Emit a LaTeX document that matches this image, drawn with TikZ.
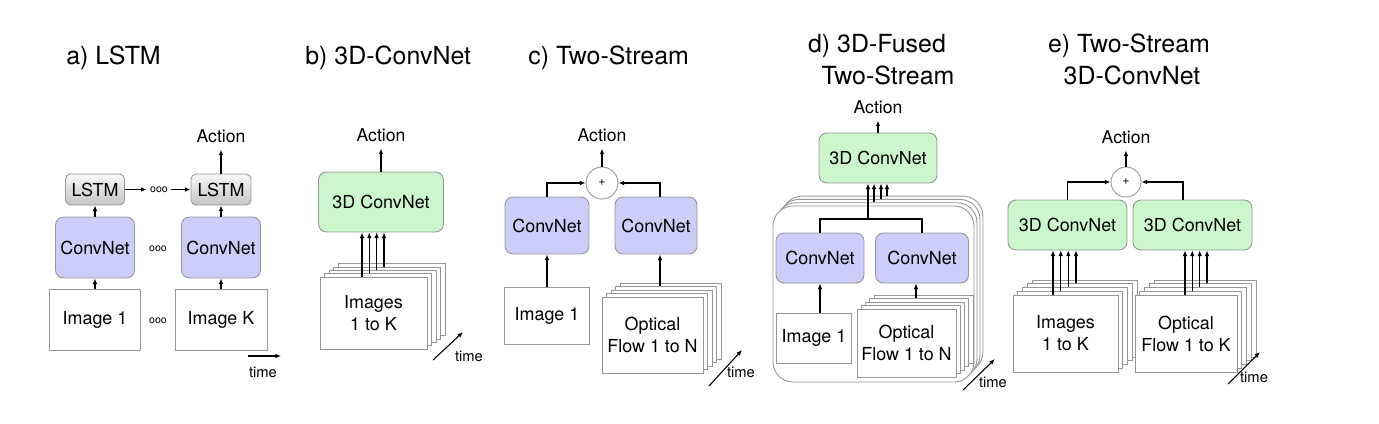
\documentclass[tikz,border=0pt]{standalone}
\usepackage{fontspec}
\setmainfont{TeX Gyre Heros}
\usetikzlibrary{arrows.meta}
\definecolor{cnblue}{RGB}{205,205,250}
\definecolor{cngreen}{RGB}{204,246,204}
\definecolor{edge}{RGB}{150,150,150}
\begin{document}
\begin{tikzpicture}[x=0.02cm,y=-0.02cm,
  every node/.style={inner sep=0pt},
  arr/.style={-{Latex[length=3.2pt,width=2.6pt]},line width=0.6pt},
  wire/.style={line width=0.6pt},
  ttl/.style={font=\fontsize{14.2}{16}\selectfont},
  txt/.style={font=\fontsize{10.2}{12.5}\selectfont,align=center},
  lbl/.style={font=\fontsize{10}{12}\selectfont,outer sep=4pt},
  tlbl/.style={font=\fontsize{8.4}{10}\selectfont},
  oootxt/.style={font=\fontsize{6}{6}\selectfont,outer sep=2pt},
  imgbox/.style={draw=edge,fill=white,line width=0.5pt},
  cnet/.style={draw=edge,fill=cnblue,rounded corners=0.16cm,line width=0.5pt,txt},
  cnetg/.style={draw=edge,fill=cngreen,rounded corners=0.16cm,line width=0.5pt,txt},
  lstm/.style={draw=edge,top color=gray!6,bottom color=gray!45,rounded corners=0.1cm,line width=0.5pt,txt},
  sumnode/.style={draw=edge,fill=white,circle,line width=0.5pt,font=\fontsize{7}{7}\selectfont}]
\useasboundingbox (0,0) rectangle (1379,423);
\node[ttl,anchor=west] (ta) at (66,58) {a) LSTM};
\node[lstm,minimum width=1.18cm,minimum height=0.62cm] (al1) at (95,189.5) {LSTM};
\node[lstm,minimum width=1.2cm,minimum height=0.62cm] (al2) at (221,189.5) {LSTM};
\node[cnet,minimum width=1.58cm,minimum height=1.22cm] (ac1) at (95,247.5) {ConvNet};
\node[cnet,minimum width=1.58cm,minimum height=1.22cm] (ac2) at (221,247.5) {ConvNet};
\node[imgbox,txt,minimum width=1.82cm,minimum height=1.22cm] (ai1) at (95,319.5) {Image 1};
\node[imgbox,txt,minimum width=1.84cm,minimum height=1.22cm] (aik) at (221,319.5) {Image K};
\node[oootxt] (ao1) at (159,189.5) {ooo};
\node[oootxt] (ao2) at (158,249) {ooo};
\node[oootxt] (ao3) at (158,321) {ooo};
\node[lbl] (aact) at (221,136) {Action};
\draw[arr] (ai1) -- (ac1);
\draw[arr] (ac1) -- (al1);
\draw[arr] (aik) -- (ac2);
\draw[arr] (ac2) -- (al2);
\draw[arr] (al2) -- (aact);
\draw[arr] (al1) -- (ao1);
\draw[arr] (ao1) -- (al2);
\coordinate (at0) at (248,356);
\coordinate (at1) at (281,356);
\draw[arr] (at0) -- (at1);
\node[tlbl] (atime) at (263,372) {time};
\node[ttl,anchor=west] (tb) at (305,58) {b) 3D-ConvNet};
\node[cnetg,minimum width=2.5cm,minimum height=1.2cm] (bcv) at (381,202) {3D ConvNet};
\node[lbl] (bact) at (381,135) {Action};
\foreach \k in {4,3,2,1}
  \node[imgbox,minimum width=2.14cm,minimum height=1.44cm] (bim\k) at ({373.5+4.5*\k},{313-3.3*\k}) {};
\node[imgbox,txt,minimum width=2.14cm,minimum height=1.44cm] (bim0) at (373.5,313) {Images\\1 to K};
\foreach \k/\dx in {0/-0.23cm,1/-0.174cm,2/-0.118cm,3/-0.06cm}
  \draw[arr] ([xshift=\dx]bim\k.north) -- ([xshift=\dx]bim\k.north |- bcv.south);
\draw[arr] (bcv) -- (bact);
\coordinate (bt0) at (433,360);
\coordinate (bt1) at (463,332);
\draw[arr] (bt0) -- (bt1);
\node[tlbl] (btime) at (469,356) {time};
\node[ttl,anchor=west] (tc) at (528,58) {c) Two-Stream};
\node[sumnode,minimum size=0.64cm] (cplus) at (602,183) {+};
\node[lbl] (cact) at (602,135) {Action};
\node[cnet,minimum width=1.68cm,minimum height=1.14cm] (cc1) at (547,225.5) {ConvNet};
\node[cnet,minimum width=1.64cm,minimum height=1.14cm] (cc2) at (656,225.5) {ConvNet};
\node[imgbox,txt,minimum width=1.7cm,minimum height=1.14cm] (ci1) at (547,315.5) {Image 1};
\foreach \k in {4,3,2,1}
  \node[imgbox,minimum width=2.02cm,minimum height=1.52cm] (cfl\k) at ({652.5+4.5*\k},{335-3.5*\k}) {};
\node[imgbox,txt,minimum width=2.02cm,minimum height=1.52cm] (cfl0) at (652.5,335) {Optical\\Flow 1 to N};
\draw[arr] (ci1) -- (cc1);
\draw[arr] ([xshift=0.08cm]cc2.south |- cfl3.north) -- ([xshift=0.08cm]cc2.south);
\draw[arr] (cc1.north) |- (cplus.west);
\draw[arr] ([xshift=0.08cm]cc2.north) |- (cplus.east);
\draw[arr] (cplus) -- (cact);
\coordinate (ct0) at (709,386);
\coordinate (ct1) at (742,350);
\draw[arr] (ct0) -- (ct1);
\node[tlbl] (ctime) at (741,372) {time};
\node[ttl] (td1) at (877,46) {d) 3D-Fused};
\node[ttl] (td2) at (888,75) {Two-Stream};
\node[cnetg,minimum width=2.36cm,minimum height=1cm] (dcv) at (878,158) {3D ConvNet};
\node[lbl] (dact) at (878,107) {Action};
\foreach \k in {3,2,1}
  \node[imgbox,rounded corners=0.4cm,minimum width=4.02cm,minimum height=3.52cm] (dbig\k) at ({873.5+3*\k},{294-3.3*\k}) {};
\node[imgbox,rounded corners=0.4cm,minimum width=4.02cm,minimum height=3.52cm] (dbig0) at (873.5,294) {};
\node[cnet,minimum width=1.76cm,minimum height=1cm] (dc1) at (820,258) {ConvNet};
\node[cnet,minimum width=1.86cm,minimum height=1cm] (dc2) at (922,258) {ConvNet};
\node[imgbox,txt,minimum width=1.5cm,minimum height=1cm] (di1) at (814,338) {Image 1};
\foreach \k in {4,3,2,1}
  \node[imgbox,minimum width=1.98cm,minimum height=1.36cm] (dfl\k) at ({906.5+4.25*\k},{343-3.5*\k}) {};
\node[imgbox,txt,minimum width=1.98cm,minimum height=1.36cm] (dfl0) at (906.5,343) {Optical\\Flow 1 to N};
\draw[arr] (dc1.south |- di1.north) -- (dc1.south);
\draw[arr] ([xshift=-0.12cm]dc2.south |- dfl3.north) -- ([xshift=-0.12cm]dc2.south);
\coordinate (dj) at (868,219);
\draw[wire] (dc1.north) |- (dj) -| (dc2.north);
\draw[arr] (dj) -- (dj |- dcv.south);
\foreach \k/\dx in {1/-0.05cm,2/0.03cm,3/0.09cm}
  \draw[arr] ([xshift=\dx]dbig\k.north) -- ([xshift=\dx]dbig\k.north |- dcv.south);
\draw[arr] (dcv) -- (dact);
\coordinate (dt0) at (963,390);
\coordinate (dt1) at (995,359);
\draw[arr] (dt0) -- (dt1);
\node[tlbl] (dtime) at (993,382) {time};
\node[ttl] (te1) at (1129,46) {e) Two-Stream};
\node[ttl] (te2) at (1132,75) {3D-ConvNet};
\node[sumnode,minimum size=0.6cm] (eplus) at (1126,182) {+};
\node[lbl] (eact) at (1126,137) {Action};
\node[cnetg,minimum width=2.38cm,minimum height=1cm] (ec1) at (1067.5,225) {3D ConvNet};
\node[cnetg,minimum width=2.38cm,minimum height=1cm] (ec2) at (1192.5,225) {3D ConvNet};
\draw[arr] (ec1.north) |- (eplus.west);
\draw[arr] ([xshift=-0.19cm]ec2.north) |- (eplus.east);
\draw[arr] (eplus) -- (eact);
\foreach \k in {4,3,2,1}
  \node[imgbox,minimum width=2.1cm,minimum height=1.54cm] (eim\k) at ({1065.5+4.75*\k},{333.5-3.75*\k}) {};
\node[imgbox,txt,minimum width=2.1cm,minimum height=1.54cm] (eim0) at (1065.5,333.5) {Images\\1 to K};
\foreach \k in {4,3,2,1}
  \node[imgbox,minimum width=2.04cm,minimum height=1.54cm] (efl\k) at ({1186+4.75*\k},{333.5-3.75*\k}) {};
\node[imgbox,txt,minimum width=2.04cm,minimum height=1.54cm] (efl0) at (1186,333.5) {Optical\\Flow 1 to K};
\foreach \k/\dx in {0/-0.25cm,1/-0.19cm,2/-0.134cm,3/-0.075cm}
  \draw[arr] ([xshift=\dx]eim\k.north) -- ([xshift=\dx]eim\k.north |- ec1.south);
\foreach \k/\dx in {0/-0.02cm,1/0.031cm,2/0.084cm,3/0.135cm}
  \draw[arr] ([xshift=\dx]efl\k.north) -- ([xshift=\dx]efl\k.north |- ec2.south);
\coordinate (et0) at (1228,384);
\coordinate (et1) at (1260,352);
\draw[arr] (et0) -- (et1);
\node[tlbl] (etime) at (1254,377) {time};
\end{tikzpicture}
\end{document}
